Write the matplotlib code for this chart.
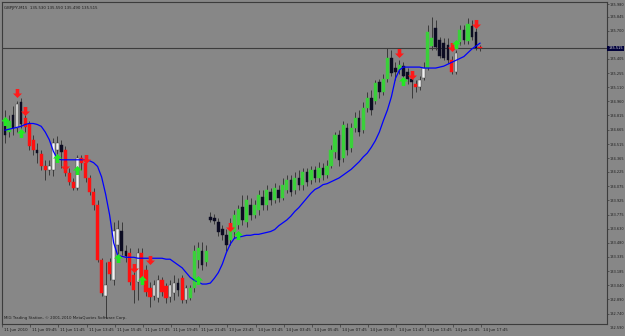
import matplotlib
matplotlib.use("Agg")
import matplotlib.pyplot as plt
import matplotlib.transforms as mtransforms
from matplotlib.path import Path
import numpy as np

# ---------------- data (GBPJPY, M15) ----------------
opens = [134.76,134.64,134.82,134.68,134.95,134.79,134.72,134.56,134.45,134.41,
         134.29,134.24,134.24,134.45,134.50,134.45,134.21,134.12,134.06,134.37,
         134.32,134.16,134.01,133.88,133.30,132.93,133.28,133.09,133.46,133.61,
         133.40,133.38,133.14,133.07,133.38,133.20,133.01,132.92,132.90,133.09,
         133.03,132.91,132.96,133.06,133.11,132.88,132.90,133.01,133.30,133.40,
         133.28,133.75,133.74,133.70,133.63,133.56,133.51,133.59,133.67,133.86,
         133.70,133.88,133.77,133.82,133.96,133.88,134.01,133.93,134.03,133.95,
         134.03,134.14,134.03,134.16,134.09,134.22,134.14,134.24,134.16,134.26,
         134.19,134.29,134.43,134.61,134.37,134.68,134.47,134.68,134.79,134.66,
         134.89,135.00,134.97,135.16,135.06,135.20,135.41,135.31,135.29,135.33,
         135.27,135.20,135.14,135.11,135.21,135.31,135.54,135.73,135.60,135.57,
         135.55,135.39,135.27,135.58,135.71,135.59,135.75,135.69,135.53]
highs = [134.87,134.82,134.91,134.97,135.00,134.89,134.76,134.61,134.53,134.45,
         134.35,134.35,134.58,134.60,134.56,134.49,134.26,134.16,134.40,134.40,
         134.38,134.19,134.05,133.93,133.32,133.28,133.32,133.70,133.72,133.70,
         133.46,133.43,133.22,133.43,133.43,133.25,133.07,133.09,133.14,133.12,
         133.06,133.09,133.14,133.11,133.14,133.04,133.04,133.46,133.49,133.49,
         133.46,133.80,133.78,133.74,133.67,133.63,133.74,133.82,133.88,133.98,
         133.98,133.95,133.93,134.03,134.03,134.09,134.05,134.11,134.09,134.16,
         134.19,134.19,134.22,134.24,134.26,134.26,134.29,134.29,134.33,134.32,
         134.35,134.50,134.64,134.66,134.76,134.74,134.74,134.85,134.87,134.95,
         135.06,135.08,135.18,135.20,135.25,135.52,135.50,135.37,135.39,135.37,
         135.31,135.25,135.18,135.23,135.37,135.76,135.84,135.81,135.64,135.62,
         135.62,135.44,135.50,135.76,135.76,135.83,135.81,135.73,135.55]
lows = [134.53,134.59,134.61,134.64,134.68,134.64,134.45,134.40,134.32,134.24,
        134.14,134.19,134.18,134.33,134.26,134.18,134.09,134.03,134.03,134.24,
        134.12,133.98,133.82,133.28,132.92,132.69,133.09,133.04,133.35,133.35,
        133.28,133.04,132.85,132.88,133.07,132.92,132.81,132.88,132.86,132.92,
        132.85,132.86,132.88,132.92,132.85,132.85,132.88,132.97,133.22,133.20,
        133.24,133.70,133.68,133.55,133.51,133.40,133.46,133.53,133.63,133.67,
        133.65,133.72,133.74,133.77,133.82,133.82,133.88,133.90,133.91,133.93,
        134.00,133.97,133.99,134.03,134.03,134.08,134.10,134.12,134.12,134.14,
        134.16,134.26,134.37,134.29,134.33,134.40,134.43,134.64,134.60,134.63,
        134.85,134.82,134.93,135.00,135.03,135.16,135.23,135.18,135.25,135.18,
        135.14,135.00,135.06,135.08,135.18,135.29,135.50,135.50,135.41,135.39,
        135.36,135.25,135.25,135.55,135.56,135.56,135.60,135.50,135.49]
closes = [134.61,134.76,134.68,134.93,134.72,134.69,134.49,134.45,134.42,134.28,
          134.24,134.28,134.53,134.53,134.43,134.21,134.12,134.06,134.37,134.32,
          134.16,134.01,133.88,133.30,132.96,133.04,133.16,133.61,133.63,133.40,
          133.34,133.07,132.99,133.38,133.11,132.97,132.91,133.04,133.09,132.97,
          132.90,133.04,133.06,132.99,132.88,133.01,133.01,133.40,133.43,133.25,
          133.40,133.72,133.71,133.59,133.56,133.46,133.67,133.77,133.84,133.72,
          133.93,133.77,133.88,133.98,133.88,134.03,133.93,134.05,133.95,134.09,
          134.14,134.01,134.16,134.09,134.22,134.12,134.24,134.16,134.26,134.19,
          134.29,134.45,134.61,134.35,134.71,134.45,134.68,134.79,134.64,134.89,
          135.00,134.87,135.15,135.06,135.20,135.42,135.26,135.27,135.34,135.23,
          135.20,135.16,135.11,135.18,135.31,135.69,135.62,135.53,135.44,135.42,
          135.39,135.27,135.47,135.71,135.60,135.77,135.63,135.52,135.515]
# candle colouring: g=green trend bar, r=red trend bar, w=white candle, k=black candle
kinds = ("kgkwkrrrkr" "rwwwkrrrwr" "rrrrrwrwwk" "krrwrrrwwr" "rwwkrwgggk"
         "gkkkkkgggk" "gkggkgkgkg" "gkgkgkgkgk" "gggkgkggkg" "gkgkggkkgk"
         "kkrwwggkkk" "krwgkgkkr")
# moving average
ma = [134.66,134.67,134.68,134.69,134.70,134.72,134.73,134.73,134.72,134.70,
      134.64,134.56,134.44,134.36,134.35,134.35,134.35,134.35,134.35,134.35,
      134.35,134.34,134.32,134.28,134.17,133.99,133.77,133.48,133.35,133.34,
      133.33,133.33,133.33,133.32,133.32,133.32,133.32,133.32,133.32,133.32,
      133.31,133.31,133.28,133.25,133.22,133.17,133.12,133.09,133.07,133.05,
      133.05,133.06,133.11,133.17,133.26,133.38,133.47,133.53,133.54,133.55,
      133.56,133.56,133.57,133.57,133.58,133.59,133.60,133.62,133.66,133.69,
      133.72,133.76,133.81,133.85,133.90,133.95,134.00,134.04,134.06,134.09,
      134.10,134.12,134.14,134.16,134.19,134.22,134.25,134.29,134.33,134.38,
      134.42,134.48,134.55,134.64,134.76,134.87,135.01,135.20,135.29,135.32,
      135.32,135.32,135.32,135.32,135.31,135.31,135.31,135.31,135.32,135.33,
      135.35,135.37,135.39,135.41,135.43,135.47,135.51,135.54,135.57]
# signal arrows
down_idx = [3, 5, 15, 20, 32, 36, 56, 98, 101, 111, 117]
down_val = [135.05, 134.86, 134.28, 134.36, 133.22, 133.30, 133.65, 135.47, 135.24, 135.53, 135.77]
up_idx = [0, 4, 13, 18, 28, 34, 48, 58, 99, 112]
up_val = [134.76, 134.63, 134.37, 134.24, 133.32, 133.09, 133.09, 133.56, 135.17, 135.56]
# axis labels
price_ticks = [135.980, 135.845, 135.700, 135.405, 135.255, 135.110, 134.960, 134.815,
               134.665, 134.515, 134.365, 134.225, 134.075, 133.925, 133.775, 133.630,
               133.480, 133.335, 133.185, 133.040, 132.890, 132.740]
extra_tick = 132.590
time_labels = ["11 Jun 2010", "11 Jun 09:45", "11 Jun 11:45", "11 Jun 13:45", "11 Jun 15:45",
               "11 Jun 17:45", "11 Jun 19:45", "11 Jun 21:45", "13 Jun 23:45", "14 Jun 01:45",
               "14 Jun 03:45", "14 Jun 05:45", "14 Jun 07:45", "14 Jun 09:45", "14 Jun 11:45",
               "14 Jun 13:45", "14 Jun 15:45", "14 Jun 17:45"]
symbol = "GBPJPY,M15"
copyright_text = "MIG Trading Station, \u00a9 2001-2010 MetaQuotes Software Corp."

# ---------------- drawing ----------------
W, H = 625, 336
BG = "#878787"
fig = plt.figure(figsize=(W / 100, H / 100), dpi=100, facecolor=BG)
ax = fig.add_axes([2 / W, (H - 324) / H, 605 / W, 322 / H])
ax.set_facecolor(BG)

n = len(opens)
x = np.arange(n)
o = np.array(opens); h = np.array(highs); l = np.array(lows); c = np.array(closes)
k = np.array(list(kinds))

ax.vlines(x, l, h, color="#3a3a3a", lw=0.7, zorder=2)

col_map = {"g": "#3ad03a", "r": "#ff1010", "w": "#f2f2f2", "k": "#0c0c22"}
bottoms = np.minimum(o, c)
heights = np.maximum(np.abs(c - o), 0.006)
for kind, width in (("w", 0.62), ("k", 0.62), ("g", 0.8), ("r", 0.8)):
    m = k == kind
    ax.bar(x[m], heights[m], bottom=bottoms[m], width=width,
           color=col_map[kind], edgecolor="#3a3a3a" if kind == "w" else col_map[kind],
           linewidth=0.3, zorder=3)

ax.plot(x, ma, color="#0000ff", lw=0.9, zorder=4)

down_arrow = Path([(-0.2, 0.5), (0.2, 0.5), (0.2, 0.0), (0.5, 0.0), (0.0, -0.5),
                   (-0.5, 0.0), (-0.2, 0.0), (-0.2, 0.5)])
up_arrow = Path([(-0.2, -0.5), (0.2, -0.5), (0.2, 0.0), (0.5, 0.0), (0.0, 0.5),
                 (-0.5, 0.0), (-0.2, 0.0), (-0.2, -0.5)])
ax.plot(down_idx, down_val, ls="none", marker=down_arrow, ms=6.5, mew=0,
        color="#ff1a1a", zorder=5)
ax.plot(up_idx, up_val, ls="none", marker=up_arrow, ms=6.5, mew=0,
        color="#22e822", zorder=5)

# current price line
ax.axhline(closes[-1], color="#3c3c3c", lw=0.8, zorder=1)

ax.set_xlim(-0.75, 149.56)
ax.set_ylim(132.632, 136.001)

for sp in ax.spines.values():
    sp.set_color("#3c3c3c")
    sp.set_linewidth(0.8)

FS = 2.75
YFS = 2.55
TC = "#1c1c1c"
ax.yaxis.tick_right()
ax.set_yticks(price_ticks)
ax.set_yticklabels([f"{v:.3f}" for v in price_ticks])
ax.tick_params(axis="y", direction="out", length=1.4, width=0.5, color="#3c3c3c",
               pad=0.5, labelsize=YFS, labelcolor=TC)
ax.set_xticks([7 * i - 0.75 for i in range(len(time_labels))])
ax.set_xticklabels(time_labels, ha="left")
ax.tick_params(axis="x", direction="out", length=2.0, width=0.5, color="#3c3c3c",
               pad=1.2, labelsize=FS, labelcolor=TC)
off = mtransforms.ScaledTranslation(1.5 / 72, 0, fig.dpi_scale_trans)
for lab in ax.get_xticklabels():
    lab.set_transform(lab.get_transform() + off)

blend = mtransforms.blended_transform_factory(ax.transAxes, ax.transData)
ax.text(1.0 + 2.3 / 605, extra_tick, f"{extra_tick:.3f}", transform=blend, ha="left",
        va="center", fontsize=YFS, color=TC, clip_on=False)
ax.text(1.0 + 1.2 / 605, closes[-1], f"{closes[-1]:.3f}", transform=blend, ha="left",
        va="center", fontsize=YFS, color="#d8d8d8", clip_on=False, zorder=10,
        bbox=dict(boxstyle="square,pad=0.2", fc="#00003a", ec="none"))

ax.text(2.5 / 605, 1 - 4 / 322,
        f"{symbol}  {opens[-1]:.3f} {highs[-1]:.3f} {lows[-1]:.3f} {closes[-1]:.3f}",
        transform=ax.transAxes, ha="left", va="top", fontsize=FS, color=TC)
ax.text(2.5 / 605, 4 / 322, copyright_text, transform=ax.transAxes, ha="left",
        va="bottom", fontsize=FS, color=TC)

fig.savefig("out.png", dpi=100, facecolor=BG)
